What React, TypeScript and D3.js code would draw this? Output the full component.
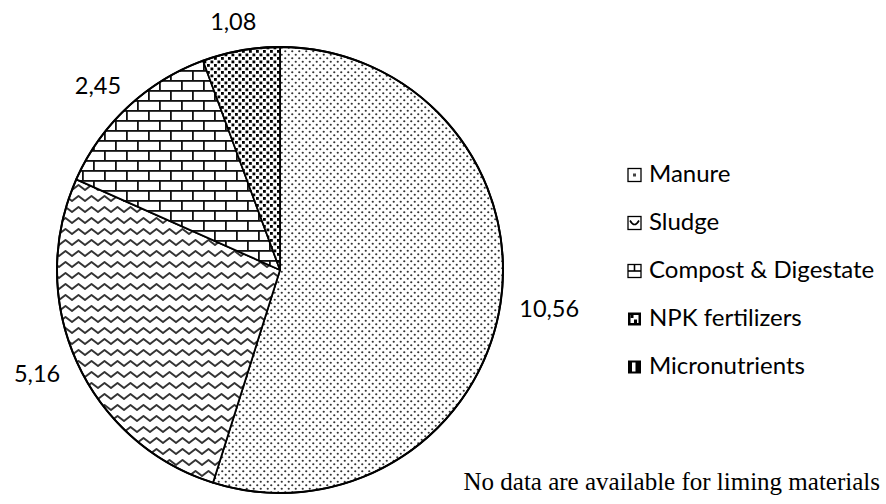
import React from "react";
import * as d3 from "d3";

const categories = ["Manure", "Sludge", "Compost & Digestate", "NPK fertilizers", "Micronutrients"];
const values = [10.56, 5.16, 2.45, 1.08, 0];
const valueLabels = ["10,56", "5,16", "2,45", "1,08", ""];
const patternIds = ["pManure", "pSludge", "pCompost", "pNpk", "pMicro"];
const footnote = "No data are available for liming materials";

const W = 886;
const H = 504;
const cx = 280;
const cy = 270;
const R = 223;

export default function App() {
  const pie = d3.pie<number>().sort(null).value((d) => d).startAngle(0).endAngle(2 * Math.PI);
  const arcs = pie(values);
  const arcGen = d3.arc<d3.PieArcDatum<number>>().innerRadius(0).outerRadius(R);

  const legendY = d3.scalePoint<string>().domain(categories).range([175, 367]);

  const labelFont = 23.5;
  const labelGap = 20;

  const swatch = (i: number, x: number, y: number) => {
    const s = 13;
    const st = { stroke: "#000", strokeWidth: 1.3 } as const;
    if (i === 0)
      return (
        <g>
          <rect x={x} y={y} width={s} height={s} fill="#fff" {...st} />
          <rect x={x + 5} y={y + 5} width={3} height={3} fill="#444" />
        </g>
      );
    if (i === 1)
      return (
        <g>
          <rect x={x} y={y} width={s} height={s} fill="#fff" {...st} />
          <path d={`M${x + 2},${y + 4} Q${x + 6.5},${y + 12} ${x + 11},${y + 4}`} stroke="#000" strokeWidth={1.6} fill="none" />
        </g>
      );
    if (i === 2)
      return (
        <g>
          <rect x={x} y={y} width={s} height={s} fill="#fff" {...st} />
          <line x1={x} x2={x + s} y1={y + 6.5} y2={y + 6.5} stroke="#000" strokeWidth={1.6} />
          <line x1={x + 6.5} x2={x + 6.5} y1={y} y2={y + 6.5} stroke="#000" strokeWidth={1.6} />
        </g>
      );
    if (i === 3)
      return (
        <g>
          <rect x={x} y={y} width={s} height={s} fill="#000" />
          <rect x={x + 2.5} y={y + 2.5} width={8} height={8} fill="#fff" />
          <rect x={x + 2.5} y={y + 2.5} width={3} height={3} fill="#000" />
          <rect x={x + 6} y={y + 7} width={3} height={3.5} fill="#000" />
        </g>
      );
    return (
      <g>
        <rect x={x} y={y} width={s} height={s} fill="#000" />
        <rect x={x + 4} y={y + 2} width={3.5} height={9} fill="#fff" />
      </g>
    );
  };

  return (
    <div style={{ position: "absolute", left: 0, top: 0 }}>
      <svg width={W} height={H} viewBox={`0 0 ${W} ${H}`} style={{ display: "block", background: "#fff" }}>
        <defs>
          <pattern id="pManure" patternUnits="userSpaceOnUse" width={7} height={7}>
            <rect width={7} height={7} fill="#fff" />
            <circle cx={1.75} cy={1.75} r={1.1} fill="#333" />
            <circle cx={5.25} cy={5.25} r={1.1} fill="#333" />
          </pattern>
          <pattern id="pSludge" patternUnits="userSpaceOnUse" width={13} height={11}>
            <rect width={13} height={11} fill="#fff" />
            <path d="M-3.25,5 L0,8 L6.5,3 L13,8 L16.25,5" stroke="#333" strokeWidth={1.9} fill="none" strokeLinejoin="round" />
          </pattern>
          <pattern id="pCompost" patternUnits="userSpaceOnUse" width={22} height={20}>
            <rect width={22} height={20} fill="#fff" />
            <rect x={0} y={0} width={22} height={1.8} fill="#111" />
            <rect x={0} y={10} width={22} height={1.8} fill="#111" />
            <rect x={0} y={0} width={1.8} height={10} fill="#111" />
            <rect x={11} y={10} width={1.8} height={10} fill="#111" />
          </pattern>
          <pattern id="pNpk" patternUnits="userSpaceOnUse" width={7} height={7}>
            <rect width={7} height={7} fill="#fff" />
            <rect x={0.5} y={0.5} width={2.8} height={2.8} fill="#000" />
            <rect x={4} y={4} width={2.8} height={2.8} fill="#000" />
          </pattern>
          <pattern id="pMicro" patternUnits="userSpaceOnUse" width={6} height={6}>
            <rect width={6} height={6} fill="#fff" />
            <rect x={0} y={0} width={3} height={6} fill="#000" />
          </pattern>
        </defs>

        <g transform={`translate(${cx},${cy})`}>
          {arcs.map((a, i) =>
            a.endAngle - a.startAngle > 0 ? (
              <path key={i} d={arcGen(a) || ""} fill={`url(#${patternIds[i]})`} stroke="#000" strokeWidth={1.8} strokeLinejoin="round" />
            ) : null
          )}
          <circle cx={0} cy={0} r={R} fill="none" stroke="#000" strokeWidth={2} />

          {arcs.map((a, i) => {
            const t = valueLabels[i];
            if (!t) return null;
            const mid = (a.startAngle + a.endAngle) / 2;
            const sx = Math.sin(mid);
            const sy = -Math.cos(mid);
            const w = t.length * labelFont * 0.5;
            const h = labelFont * 0.8;
            const ax = sx * (R + labelGap);
            const ay = sy * (R + labelGap);
            const x = ax + (sx * w) / 2;
            const y = ay + (sy * h) / 2;
            return (
              <text key={"l" + i} x={x} y={y} textAnchor="middle" dy="0.36em" fontFamily="Lato, sans-serif" fontSize={labelFont} fill="#000">
                {t}
              </text>
            );
          })}
        </g>

        {categories.map((c, i) => {
          const yc = legendY(c) as number;
          return (
            <g key={"g" + i}>
              {swatch(i, 628, yc - 6.5)}
              <text x={649} y={yc + 7} fontFamily="Lato, sans-serif" fontSize={24} fill="#000">
                {c}
              </text>
            </g>
          );
        })}

        <text x={880} y={490} textAnchor="end" fontFamily="'Liberation Serif', 'Times New Roman', serif" fontSize={25} fill="#000">
          {footnote}
        </text>
      </svg>
    </div>
  );
}
